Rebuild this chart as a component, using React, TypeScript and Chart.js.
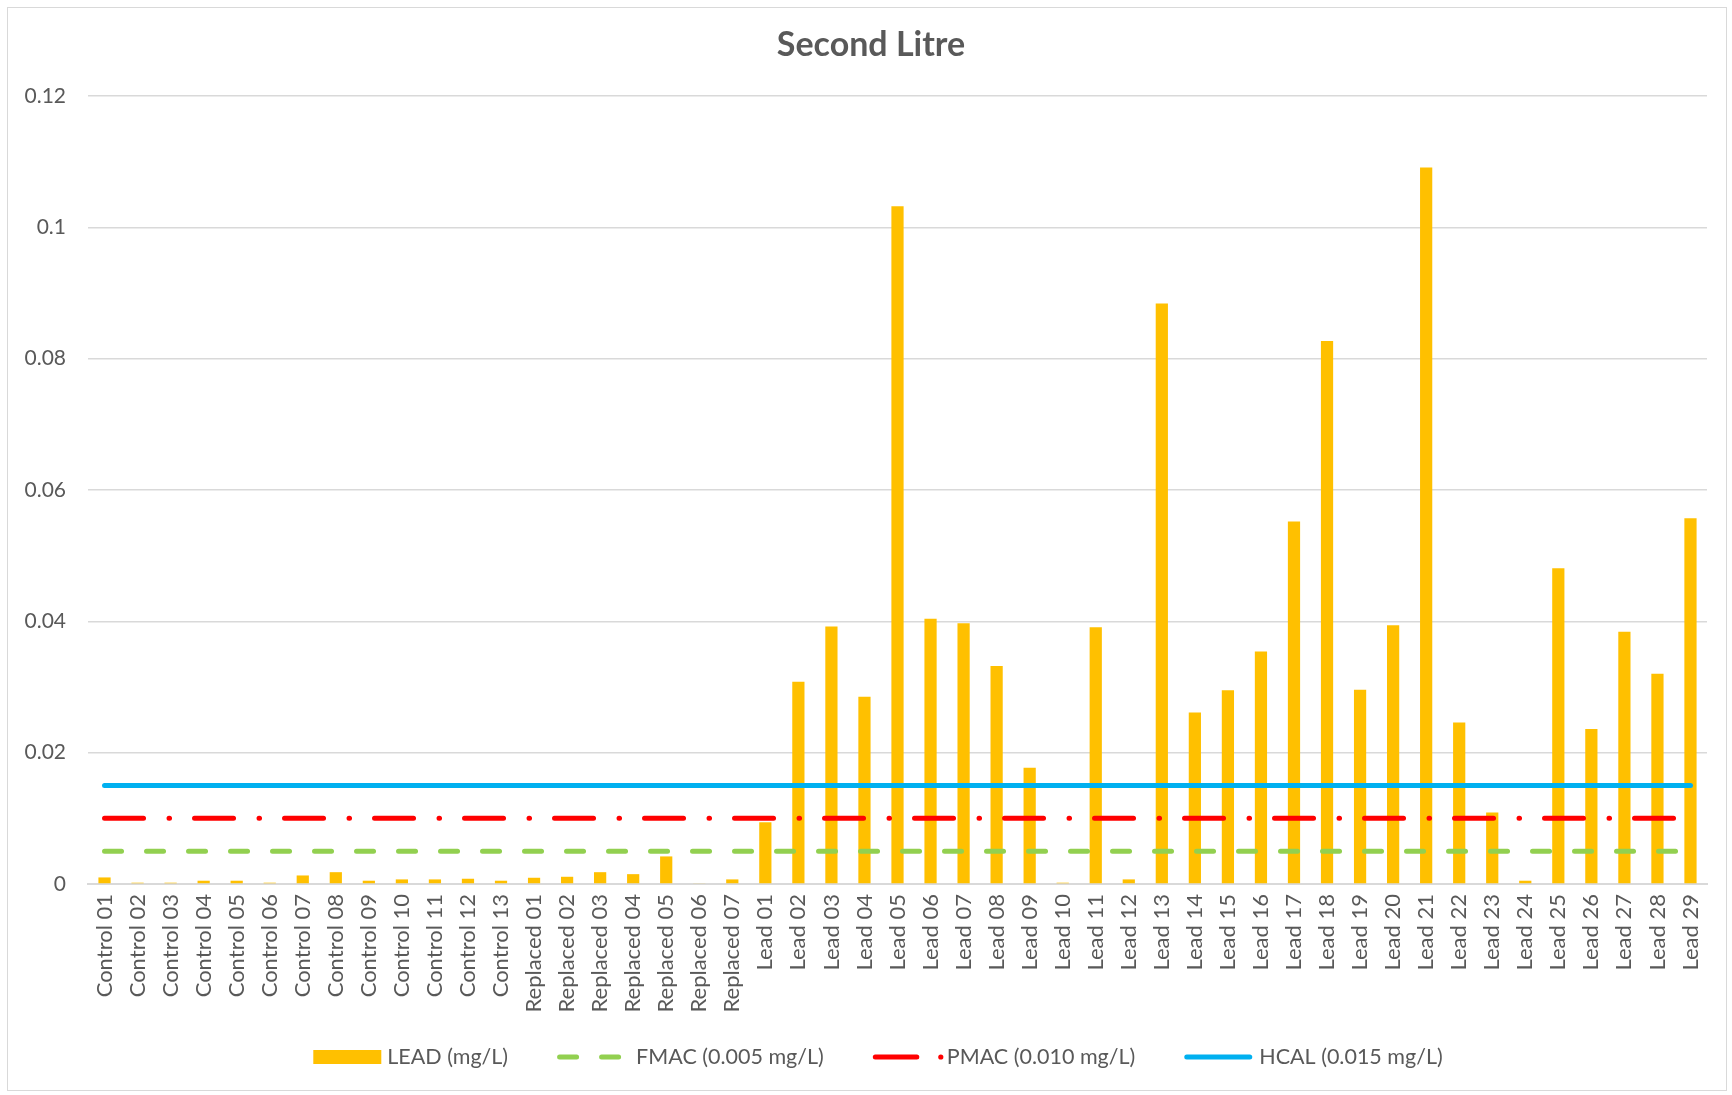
import React, { useEffect, useRef } from "react";
import { Chart, registerables } from "chart.js";

Chart.register(...registerables);

const categories = [
  "Control 01", "Control 02", "Control 03", "Control 04", "Control 05", "Control 06", "Control 07",
  "Control 08", "Control 09", "Control 10", "Control 11", "Control 12", "Control 13",
  "Replaced 01", "Replaced 02", "Replaced 03", "Replaced 04", "Replaced 05", "Replaced 06", "Replaced 07",
  "Lead 01", "Lead 02", "Lead 03", "Lead 04", "Lead 05", "Lead 06", "Lead 07", "Lead 08", "Lead 09",
  "Lead 10", "Lead 11", "Lead 12", "Lead 13", "Lead 14", "Lead 15", "Lead 16", "Lead 17", "Lead 18",
  "Lead 19", "Lead 20", "Lead 21", "Lead 22", "Lead 23", "Lead 24", "Lead 25", "Lead 26", "Lead 27",
  "Lead 28", "Lead 29",
];

const leadValues = [
  0.001, 0.0002, 0.0002, 0.0005, 0.0005, 0.0002, 0.0013,
  0.0018, 0.0005, 0.0007, 0.0007, 0.0008, 0.0005,
  0.00095, 0.0011, 0.0018, 0.0015, 0.0042, 0.0001, 0.0007,
  0.0094, 0.0308, 0.0392, 0.0285, 0.1032, 0.0404, 0.0397, 0.0332, 0.0177,
  0.0002, 0.0391, 0.0007, 0.0884, 0.0261, 0.0295, 0.0354, 0.0552, 0.0827,
  0.0296, 0.0394, 0.1091, 0.0246, 0.0109, 0.0005, 0.0481, 0.0236, 0.0384,
  0.032, 0.0557,
];

const fmacLevel = 0.005;
const pmacLevel = 0.01;
const hcalLevel = 0.015;

const yTickValues = [0, 0.02, 0.04, 0.06, 0.08, 0.1, 0.12];

const seriesLabels = ["LEAD (mg/L)", "FMAC (0.005 mg/L)", "PMAC (0.010 mg/L)", "HCAL (0.015 mg/L)"];
const titleText = "Second Litre";

const FONT = "Lato, 'Open Sans', sans-serif";
const TEXT = "#595959";
const GRID = "#d9d9d9";
const BAR = "#FFC000";
const GREEN = "#92D050";
const RED = "#FF0000";
const BLUE = "#00B0F0";
const GREEN_DASH = [17, 25];
const RED_DASH = [39, 25.5, 0.5, 25];

const decorPlugin = {
  id: "decor",
  beforeDraw(chart: any) {
    const ctx = chart.ctx;
    ctx.save();
    ctx.fillStyle = "#ffffff";
    ctx.fillRect(0, 0, chart.width, chart.height);
    ctx.strokeStyle = GRID;
    ctx.lineWidth = 1;
    ctx.strokeRect(7.5, 7.5, chart.width - 13, chart.height - 12);
    ctx.restore();
  },
  afterDraw(chart: any) {
    const ctx = chart.ctx;
    ctx.save();
    // title
    ctx.fillStyle = TEXT;
    ctx.font = `bold 34px ${FONT}`;
    ctx.textAlign = "center";
    ctx.textBaseline = "middle";
    ctx.fillText(titleText, chart.width / 2 + 5, 45);

    // legend
    ctx.font = `21.5px ${FONT}`;
    const sw = 68;
    const gaps = [6, 11, 6, 7];
    const gapItem = 49;
    const widths = seriesLabels.map((t) => ctx.measureText(t).width);
    const total =
      widths.reduce((a, b) => a + b, 0) +
      seriesLabels.length * sw +
      gaps.reduce((a, b) => a + b, 0) +
      (seriesLabels.length - 1) * gapItem;
    let x = chart.width / 2 + 12 - total / 2;
    const y = 1057;
    seriesLabels.forEach((label, i) => {
      ctx.lineWidth = 5;
      ctx.lineCap = "round";
      if (i === 0) {
        ctx.fillStyle = BAR;
        ctx.fillRect(x, y - 7, sw, 14);
      } else if (i === 1) {
        ctx.strokeStyle = GREEN;
        ctx.setLineDash(GREEN_DASH);
        ctx.beginPath();
        ctx.moveTo(x + 2.5, y);
        ctx.lineTo(x + sw - 2.5, y);
        ctx.stroke();
        ctx.setLineDash([]);
      } else if (i === 2) {
        ctx.strokeStyle = RED;
        ctx.beginPath();
        ctx.moveTo(x + 2.5, y);
        ctx.lineTo(x + 44, y);
        ctx.stroke();
        ctx.fillStyle = RED;
        ctx.beginPath();
        ctx.arc(x + 68, y, 2.6, 0, Math.PI * 2);
        ctx.fill();
      } else {
        ctx.strokeStyle = BLUE;
        ctx.beginPath();
        ctx.moveTo(x + 2.5, y);
        ctx.lineTo(x + sw - 2.5, y);
        ctx.stroke();
      }
      ctx.fillStyle = TEXT;
      ctx.textAlign = "left";
      ctx.textBaseline = "middle";
      ctx.fillText(label, x + sw + gaps[i], y);
      x += sw + gaps[i] + widths[i] + gapItem;
    });
    ctx.restore();
  },
};

export default function App() {
  const ref = useRef<HTMLCanvasElement | null>(null);

  useEffect(() => {
    if (!ref.current) return;
    const chart = new Chart(ref.current, {
      type: "bar",
      data: {
        labels: categories,
        datasets: [
          {
            type: "bar",
            label: seriesLabels[0],
            data: leadValues,
            backgroundColor: BAR,
            barPercentage: 0.37,
            categoryPercentage: 1,
            order: 10,
          },
          {
            type: "line",
            label: seriesLabels[1],
            data: categories.map(() => fmacLevel),
            borderColor: GREEN,
            borderWidth: 5,
            borderDash: GREEN_DASH,
            borderCapStyle: "round",
            pointRadius: 0,
            fill: false,
            order: 3,
          },
          {
            type: "line",
            label: seriesLabels[2],
            data: categories.map(() => pmacLevel),
            borderColor: RED,
            borderWidth: 5,
            borderDash: RED_DASH,
            borderCapStyle: "round",
            pointRadius: 0,
            fill: false,
            order: 2,
          },
          {
            type: "line",
            label: seriesLabels[3],
            data: categories.map(() => hcalLevel),
            borderColor: BLUE,
            borderWidth: 5,
            borderCapStyle: "round",
            pointRadius: 0,
            fill: false,
            order: 1,
          },
        ],
      } as any,
      options: {
        animation: false,
        responsive: false,
        maintainAspectRatio: false,
        events: [],
        layout: { padding: { top: 96, right: 25, bottom: 0, left: 0 } },
        plugins: {
          legend: { display: false },
          title: { display: false },
          tooltip: { enabled: false },
        },
        scales: {
          x: {
            grid: { display: false, drawTicks: false },
            border: { display: true, color: GRID, width: 2 },
            ticks: {
              autoSkip: false,
              maxRotation: 90,
              minRotation: 90,
              color: TEXT,
              font: { family: FONT, size: 22 },
              padding: 10,
            },
            afterFit: (s: any) => {
              s.height = 211;
            },
          },
          y: {
            min: 0,
            max: 0.12,
            afterBuildTicks: (s: any) => {
              s.ticks = yTickValues.map((v) => ({ value: v }));
            },
            ticks: {
              color: TEXT,
              font: { family: FONT, size: 21 },
              padding: 22,
              callback: (v: any) => String(+Number(v).toFixed(2)),
            },
            grid: { color: GRID, lineWidth: 1.5, drawTicks: false },
            border: { display: false },
            afterFit: (s: any) => {
              s.width = 88;
            },
          },
        },
      } as any,
      plugins: [decorPlugin],
    });
    return () => chart.destroy();
  }, []);

  return (
    <div style={{ position: "fixed", left: 0, top: 0, width: 1732, height: 1095 }}>
      <canvas ref={ref} width={1732} height={1095} style={{ width: 1732, height: 1095 }} />
    </div>
  );
}
